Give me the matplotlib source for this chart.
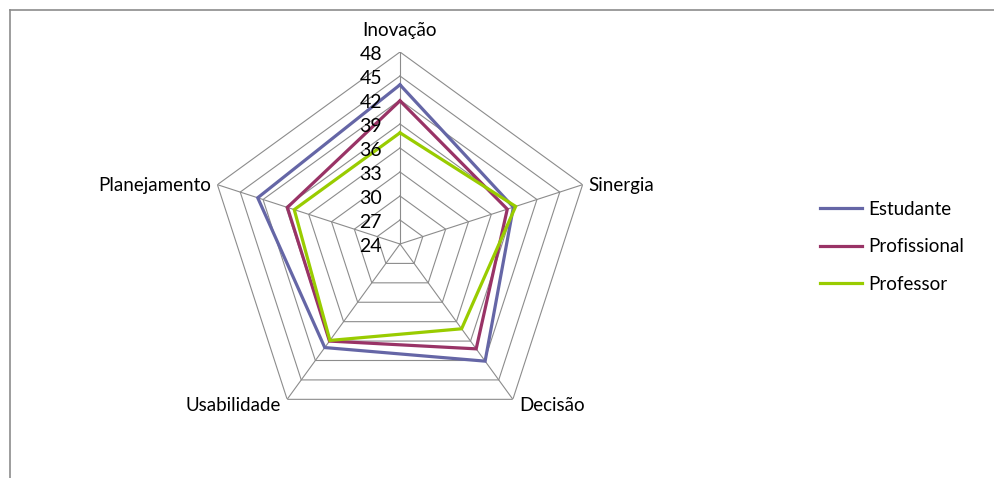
import numpy as np
import matplotlib
matplotlib.use("Agg")
import matplotlib.pyplot as plt
from matplotlib.lines import Line2D

categories = ["Inovação", "Sinergia", "Decisão", "Usabilidade", "Planejamento"]
estudante = [43.9, 38.9, 42.1, 40.0, 42.7]
profissional = [41.9, 38.1, 40.2, 39.0, 38.8]
professor = [37.9, 39.2, 37.1, 38.9, 37.9]
series_names = ["Estudante", "Profissional", "Professor"]
tick_values = [24, 27, 30, 33, 36, 39, 42, 45, 48]

colors = ["#6566A6", "#993366", "#99CC00"]
grid_color = "#8C8C8C"

plt.rcParams['font.family'] = ['Lato', 'DejaVu Sans']

W, H = 994, 478
fig = plt.figure(figsize=(W / 100, H / 100), dpi=100)

# outer frame (top & left border of chart area)
fig.add_artist(Line2D([10 / W, 1], [1 - 10 / H, 1 - 10 / H], color="#8C8C8C", lw=1.2))
fig.add_artist(Line2D([10 / W, 10 / W], [0, 1 - 10 / H], color="#8C8C8C", lw=1.2))

cx, cy, R = 400, 244, 192
ax = fig.add_axes([(cx - R) / W, (H - cy - R) / H, 2 * R / W, 2 * R / H], projection='polar')
ax.set_theta_offset(np.pi / 2)
ax.set_theta_direction(-1)
ax.set_ylim(tick_values[0], tick_values[-1])
ax.grid(False)
ax.set_xticks([])
ax.set_yticks([])
ax.spines['polar'].set_visible(False)
ax.patch.set_alpha(0)

n = len(categories)
angles = np.arange(n) * 2 * np.pi / n
closed = np.append(angles, angles[0])

# polygon grid
for v in tick_values[1:]:
    ax.plot(closed, [v] * (n + 1), color=grid_color, lw=0.8, zorder=1)
# spokes
for a in angles:
    ax.plot([a, a], [tick_values[0], tick_values[-1]], color=grid_color, lw=0.8, zorder=1)

# series
for vals, name, c in zip([estudante, profissional, professor], series_names, colors):
    ax.plot(closed, list(vals) + [vals[0]], color=c, lw=2.3, label=name, zorder=3,
            solid_joinstyle='miter')

# tick labels along top axis
for v in tick_values:
    ax.annotate(str(v), xy=(0, v), xytext=(-18, -2), textcoords='offset pixels',
                ha='right', va='center', fontsize=14, color='black', zorder=4)

# category labels
label_offsets = [(0, 22, 'center', 'center'),
                 (6, -1, 'left', 'center'),
                 (6, -6, 'left', 'center'),
                 (-6, -6, 'right', 'center'),
                 (-6, -1, 'right', 'center')]
for a, cat, (dx, dy, ha, va) in zip(angles, categories, label_offsets):
    ax.annotate(cat, xy=(a, tick_values[-1]), xytext=(dx, dy), textcoords='offset pixels',
                ha=ha, va=va, fontsize=13.5, color='black')

fs = 13.5
fs_px = fs * 100 / 72
fig.legend(loc='upper left', bbox_to_anchor=(820 / W, 1 - 201 / H), frameon=False,
           fontsize=fs, borderpad=0, borderaxespad=0, handlelength=42 / fs_px,
           handletextpad=6 / fs_px, labelspacing=(39 - fs_px) / fs_px)

fig.savefig("out.png", dpi=100)
